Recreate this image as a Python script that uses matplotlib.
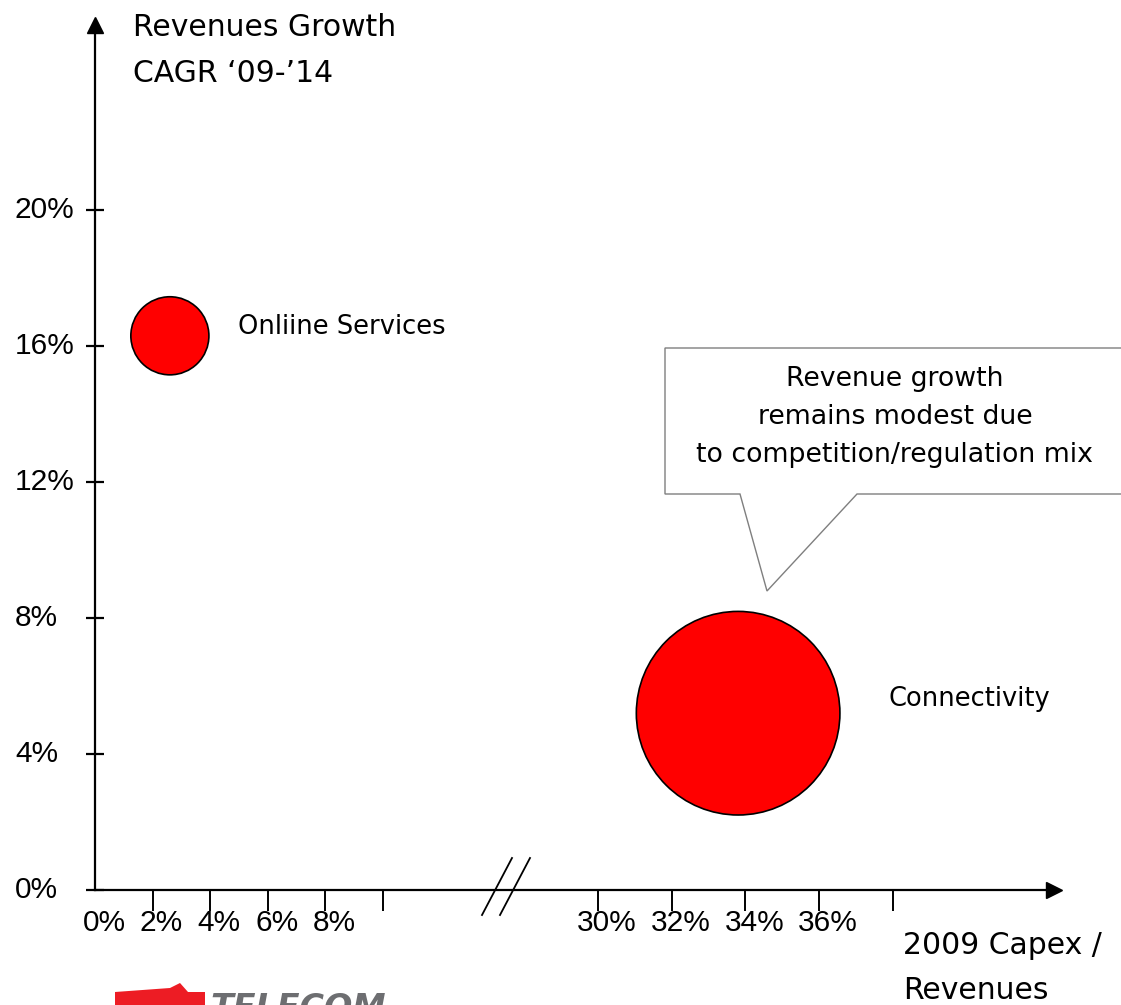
import matplotlib
matplotlib.use("Agg")
import matplotlib.pyplot as plt
from matplotlib.patches import Polygon
from matplotlib.transforms import blended_transform_factory, ScaledTranslation
import numpy as np

# dati
segmentos = ["Onliine Services", "Connectivity"]
capex_pct = [2.6, 33.8]        # 2009 Capex / Revenues (%)
cagr_pct = [16.3, 5.2]         # Revenues Growth CAGR '09-'14 (%)
peso_bolha = [1.0, 6.8]        # tamanho relativo das bolhas

xticks_val = [0, 2, 4, 6, 8, 10, 30, 32, 34, 36, 38]
xticks_lab = ["0%", "2%", "4%", "6%", "8%", "", "30%", "32%", "34%", "36%", ""]
yticks_val = [0, 4, 8, 12, 16, 20]
yticks_lab = ["0%", "4%", "8%", "12%", "16%", "20%"]

nota = "Revenue growth\nremains modest due\nto competition/regulation mix"

W, H = 1121, 1005
fig = plt.figure(figsize=(W / 100, H / 100), dpi=100)
plt.rcParams['font.family'] = ['DejaVu Sans']

ax = fig.add_axes([95 / W, (H - 890) / H, (1054 - 95) / W, (890 - 25) / H])

# eixo x com quebra: escala em pedacos
xp = [-100, 0, 10, 26, 100]
up = [-2880, 0, 288, 355.5, 503 + 70 * 36.875]


def fwd(x):
    return np.interp(x, xp, up)


def inv(u):
    return np.interp(u, up, xp)


ax.set_xscale('function', functions=(fwd, inv))
ax.set_xlim(0, inv(959))
ax.set_ylim(0, 865 / 136 * 4)

# bolhas
ax.scatter(capex_pct, cagr_pct, s=np.array(peso_bolha) * 3160, color='#ff0000',
           edgecolor='black', linewidth=1.2, zorder=3, clip_on=False)
off_lab = [(68, 9), (150, 14)]
for nome, x, y, (dx, dy) in zip(segmentos, capex_pct, cagr_pct, off_lab):
    ax.annotate(nome, (x, y), xytext=(dx, dy), textcoords='offset pixels',
                fontsize=18.5, va='center', ha='left')

# eixos
for s in ['top', 'right']:
    ax.spines[s].set_visible(False)
ax.spines['left'].set_linewidth(1.6)
ax.spines['bottom'].set_linewidth(1.6)
ax.plot(0, 1, marker='^', markersize=11, color='black', transform=ax.transAxes, clip_on=False)
ax.plot(1, 0, marker='>', markersize=11, color='black', transform=ax.transAxes, clip_on=False)

ax.set_xticks(xticks_val)
ax.set_xticklabels([])
ax.tick_params(axis='x', direction='out', length=15, width=1.4)
ax.xaxis.get_major_ticks()[0].tick1line.set_visible(False)
ax.set_yticks(yticks_val)
ax.set_yticklabels([])
ax.tick_params(axis='y', direction='inout', length=13.5, width=1.6)

trans_x = blended_transform_factory(ax.transData, ax.transAxes)
desloc = ScaledTranslation(9 / 100, 0, fig.dpi_scale_trans)
for v, lab in zip(xticks_val, xticks_lab):
    ax.text(v, -33 / 865, lab, transform=trans_x + desloc, ha='center', va='center',
            fontsize=21.5, family='Liberation Sans')

trans_y = blended_transform_factory(ax.transAxes, ax.transData)
for v, lab in zip(yticks_val, yticks_lab):
    ax.text(-80 / 959, v, lab, transform=trans_y, ha='left', va='center',
            fontsize=21.5, family='Liberation Sans')

# quebra do eixo x
for x0 in [482, 500]:
    ax.plot([(x0 - 95) / 959, (x0 + 30 - 95) / 959], [-25 / 865, 32 / 865],
            color='black', lw=1.3, transform=ax.transAxes, clip_on=False)

# titulos dos eixos
fig.text(133 / W, 1 - 13 / H, "Revenues Growth\nCAGR \u201809-\u201914", fontsize=21.5,
         ha='left', va='top', linespacing=1.75)
fig.text(903 / W, 1 - 931 / H, "2009 Capex /\nRevenues", fontsize=21.5,
         ha='left', va='top', linespacing=1.7)

# balao de comentario
pts = [(665, 348), (1130, 348), (1130, 494), (857, 494), (767, 591), (740, 494), (665, 494)]
balao = Polygon([(px / W, 1 - py / H) for px, py in pts], closed=True, facecolor='white',
                edgecolor='#7f7f7f', lw=1.0, transform=fig.transFigure)
fig.patches.append(balao)
fig.text(895 / W, 1 - 417 / H, nota, fontsize=19.3, ha='center', va='center', linespacing=1.58)

# logo (cortado na borda)
logo = [(115, 1005), (115, 992), (170, 988), (180, 983), (188, 992), (205, 992), (205, 1005)]
fig.patches.append(Polygon([(px / W, 1 - py / H) for px, py in logo], closed=True,
                           facecolor='#ed1c24', edgecolor='none', transform=fig.transFigure))
fig.text(210 / W, 1 - 992 / H, "TELECOM", fontsize=24, fontweight='bold', style='italic',
         color='#6d6e71', ha='left', va='top')

fig.savefig("out.png", dpi=100)
